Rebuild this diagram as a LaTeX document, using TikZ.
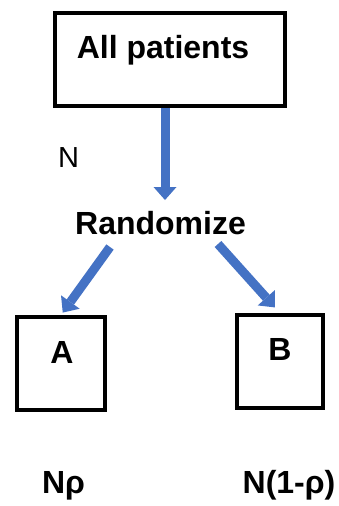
\documentclass[tikz,border=0pt]{standalone}
\usepackage{fontspec}
\setmainfont{Liberation Sans}
\usetikzlibrary{arrows.meta}
\definecolor{arrowblue}{HTML}{4472C4}
\begin{document}
\begin{tikzpicture}[x=1pt,y=-1pt,
  frame/.style={draw=black, line width=4pt, inner sep=0pt},
  bigtxt/.style={font=\fontsize{32}{37}\selectfont\bfseries, inner sep=0pt, anchor=base},
  plaintxt/.style={font=\fontsize{29}{34}\selectfont, inner sep=0pt, anchor=base},
  flow/.style={draw=arrowblue, line width=9pt,
    -{Triangle[width=23pt,length=13pt,line width=0pt]}},
]
\useasboundingbox (0,0) rectangle (339,506);

% boxes
\node[frame, minimum width=230pt, minimum height=93pt] (allbox) at (170,59.5) {};
\node[frame, minimum width=88pt, minimum height=93pt] (boxA) at (61,363.5) {};
\node[frame, minimum width=86pt, minimum height=93pt] (boxB) at (280,361.5) {};

% texts
\node[bigtxt] (alltxt) at (163,58) {All patients};
\node[plaintxt] (ntxt) at (68.5,167) {N};
\node[bigtxt] (rand) at (160.5,234) {Randomize};
\node[bigtxt] (labA) at (62,363) {A};
\node[bigtxt] (labB) at (280,360) {B};
\node[bigtxt] (nrho) at (63.5,493) {Nρ};
\node[bigtxt] (nonerho) at (289,493) {N(1-ρ)};

% arrows
\coordinate (tipN) at (165,200);
\coordinate (lstart) at (110,247);
\coordinate (rstart) at (218,244);
\draw[flow] (allbox.south -| tipN) -- (tipN);
\draw[flow, shorten >=3pt] (lstart) -- (boxA.north);
\draw[flow, shorten >=7.5pt] (rstart) -- (boxB.north);
\end{tikzpicture}
\end{document}
